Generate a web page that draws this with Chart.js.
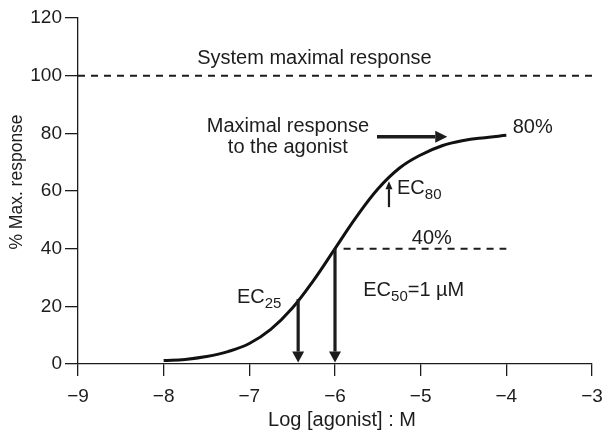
<!DOCTYPE html>
<html>
<head>
<meta charset="utf-8">
<script src="https://cdn.jsdelivr.net/npm/chart.js@4.4.1/dist/chart.umd.min.js"></script>
<style>
  html, body { margin: 0; padding: 0; background: #ffffff; }
  #wrap { width: 602px; height: 431px; }
</style>
</head>
<body>
<div id="wrap"><canvas id="c" width="602" height="431"></canvas></div>
<script>
// Concentration-response curve: log agonist concentration (M) vs % of system maximal response
const logConc = [-8, -7.75, -7.5, -7.25, -7, -6.75, -6.5, -6.25, -6, -5.75, -5.5, -5.25, -5, -4.75, -4.5, -4.25, -4];
const response = [1.2, 1.6, 2.6, 4.3, 7.1, 12.0, 19.3, 29.0, 40.0, 51.0, 60.7, 67.9, 72.5, 75.7, 77.5, 78.5, 79.3];

// Reference levels
const systemMax = 100;       // system maximal response
const agonistMax = 80;       // maximal response to the agonist
const halfMax = 40;          // 50% of the agonist maximum
const ec50Log = -6;          // EC50 = 1 µM
const ec25Log = -6.43;
const ec80Log = -5.37;

// Axis ranges and ticks
const xTicks = [-9, -8, -7, -6, -5, -4, -3];
const yTicks = [0, 20, 40, 60, 80, 100, 120];

// Arrows: [x1, y1, x2, y2] in data units (tail -> tip)
const arrowEC50 = [ec50Log, halfMax, ec50Log, 0.5];
const arrowEC25 = [ec25Log, 22.5, ec25Log, 0.5];
const arrowEC80 = [ec80Log, 54.4, ec80Log, 63.4];
const arrowMax  = [-5.51, 78.8, -4.69, 78.8];

const INK = '#1c1c1c';
const FONT = '"Liberation Sans", Arial, Helvetica, sans-serif';

function drawArrow(ctx, x1, y1, x2, y2, lw, headLen, headW) {
  const ang = Math.atan2(y2 - y1, x2 - x1);
  const bx = x2 - Math.cos(ang) * headLen;
  const by = y2 - Math.sin(ang) * headLen;
  ctx.strokeStyle = INK;
  ctx.fillStyle = INK;
  ctx.lineWidth = lw;
  ctx.lineCap = 'butt';
  ctx.beginPath();
  ctx.moveTo(x1, y1);
  ctx.lineTo(bx, by);
  ctx.stroke();
  const nx = -Math.sin(ang) * headW / 2;
  const ny = Math.cos(ang) * headW / 2;
  ctx.beginPath();
  ctx.moveTo(x2, y2);
  ctx.lineTo(bx + nx, by + ny);
  ctx.lineTo(bx - nx, by - ny);
  ctx.closePath();
  ctx.fill();
}

function drawSubscripted(ctx, main, sub, rest, x, y) {
  ctx.textAlign = 'left';
  ctx.textBaseline = 'alphabetic';
  ctx.font = '20px ' + FONT;
  ctx.fillText(main, x, y);
  let cx = x + ctx.measureText(main).width;
  ctx.font = '15px ' + FONT;
  ctx.fillText(sub, cx, y + 5);
  cx += ctx.measureText(sub).width;
  if (rest) {
    ctx.font = '20px ' + FONT;
    ctx.fillText(rest, cx, y);
  }
}

const annotations = {
  id: 'annotations',
  afterDatasetsDraw(chart) {
    const { ctx, scales } = chart;
    const X = v => scales.x.getPixelForValue(v);
    const Y = v => scales.y.getPixelForValue(v);
    ctx.save();

    // arrows
    drawArrow(ctx, X(arrowEC50[0]), Y(arrowEC50[1]), X(arrowEC50[2]), Y(arrowEC50[3]), 3.2, 11, 12);
    drawArrow(ctx, X(arrowEC25[0]), Y(arrowEC25[1]), X(arrowEC25[2]), Y(arrowEC25[3]), 3.2, 11, 12);
    drawArrow(ctx, X(arrowEC80[0]), Y(arrowEC80[1]), X(arrowEC80[2]), Y(arrowEC80[3]), 2.2, 8, 7);
    drawArrow(ctx, X(arrowMax[0]), Y(arrowMax[1]), X(arrowMax[2]), Y(arrowMax[3]), 3.4, 12, 12);

    // text labels
    ctx.fillStyle = INK;
    ctx.font = '20px ' + FONT;
    ctx.textBaseline = 'alphabetic';
    ctx.textAlign = 'center';
    ctx.fillText('System maximal response', X(-6.24), Y(104.2));
    ctx.fillText('Maximal response', X(-6.55), Y(80.5));
    ctx.fillText('to the agonist', X(-6.55), Y(73.1));
    ctx.fillText(halfMax + '%', X(-4.87), Y(halfMax) - 5);
    ctx.textAlign = 'left';
    ctx.fillText(agonistMax + '%', X(-3.926), Y(80.1));

    drawSubscripted(ctx, 'EC', '25', '', X(-7.144), Y(21.1));
    drawSubscripted(ctx, 'EC', '80', '', X(-5.276), Y(59.1));
    drawSubscripted(ctx, 'EC', '50', '=1 µM', X(-5.67), Y(23.6));

    // axis titles
    ctx.font = '20px ' + FONT;
    ctx.textAlign = 'center';
    ctx.fillText('Log [agonist] : M', 342, 426);
    ctx.save();
    ctx.translate(21.5, 182);
    ctx.rotate(-Math.PI / 2);
    ctx.font = '17.5px ' + FONT;
    ctx.fillText('% Max. response', 0, 0);
    ctx.restore();

    ctx.restore();
  }
};

const curve = logConc.map((v, i) => ({ x: v, y: response[i] }));

new Chart(document.getElementById('c'), {
  type: 'line',
  data: {
    datasets: [
      {
        data: curve,
        borderColor: '#111111',
        borderWidth: 3,
        pointRadius: 0,
        tension: 0.4,
        fill: false
      },
      {
        data: [{ x: xTicks[0], y: systemMax }, { x: xTicks[xTicks.length - 1], y: systemMax }],
        borderColor: INK,
        borderWidth: 2,
        borderDash: [7, 6],
        pointRadius: 0
      },
      {
        data: [{ x: -5.9, y: halfMax }, { x: -4, y: halfMax }],
        borderColor: INK,
        borderWidth: 2,
        borderDash: [7, 6],
        pointRadius: 0
      }
    ]
  },
  options: {
    responsive: false,
    devicePixelRatio: 1,
    animation: false,
    layout: { padding: { top: 18, right: 10, left: 0, bottom: 0 } },
    plugins: { legend: { display: false }, tooltip: { enabled: false } },
    scales: {
      x: {
        type: 'linear',
        min: xTicks[0],
        max: xTicks[xTicks.length - 1],
        afterBuildTicks: s => { s.ticks = xTicks.map(v => ({ value: v })); },
        afterFit: s => { s.height = 67; s.paddingRight = 0; s.paddingLeft = 0; },
        ticks: {
          color: INK,
          font: { family: FONT, size: 19 },
          padding: 9,
          maxRotation: 0,
          callback: v => (v < 0 ? '\u2212' + Math.abs(v) : String(v))
        },
        grid: { drawOnChartArea: false, drawTicks: true, tickLength: 12, color: INK, lineWidth: 1.3 },
        border: { display: true, color: INK, width: 1.3 }
      },
      y: {
        min: yTicks[0],
        max: yTicks[yTicks.length - 1],
        afterBuildTicks: s => { s.ticks = yTicks.map(v => ({ value: v })); },
        afterFit: s => { s.width = 78; s.paddingTop = 0; s.paddingBottom = 0; },
        ticks: {
          color: INK,
          font: { family: FONT, size: 19 },
          padding: 3
        },
        grid: { drawOnChartArea: false, drawTicks: true, tickLength: 13, color: INK, lineWidth: 1.3 },
        border: { display: true, color: INK, width: 1.3 }
      }
    }
  },
  plugins: [annotations]
});
</script>
</body>
</html>
